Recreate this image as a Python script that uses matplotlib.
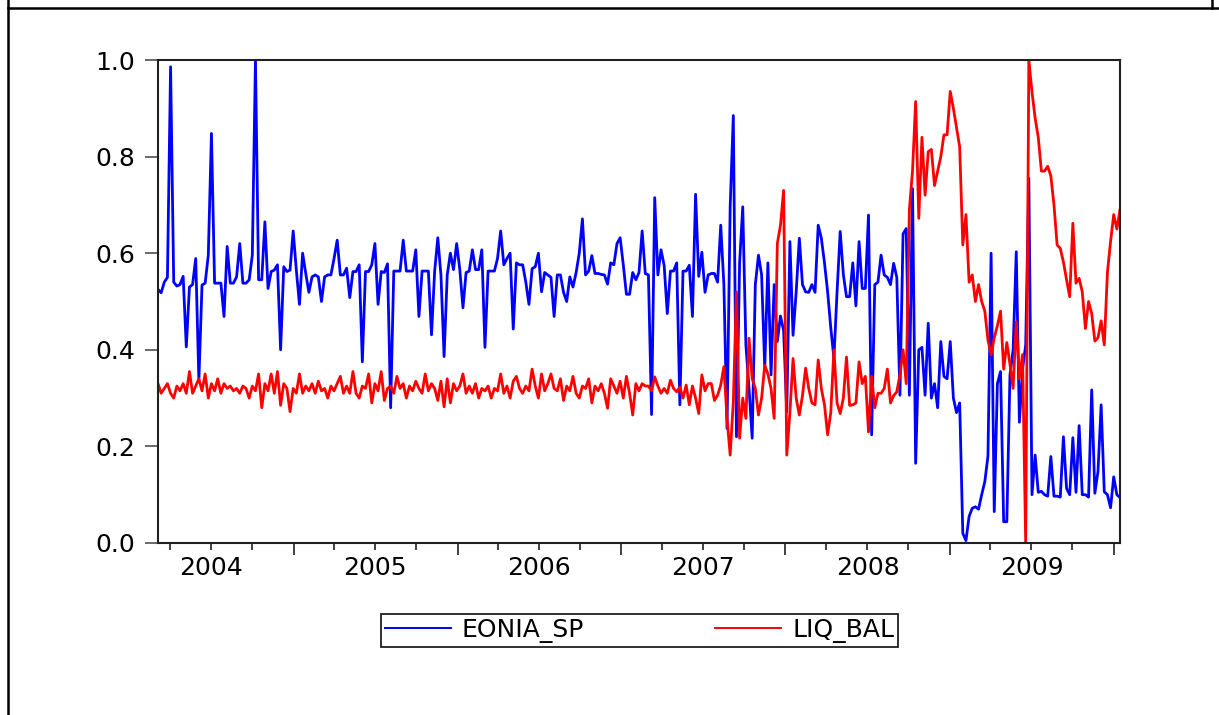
import matplotlib
matplotlib.use("Agg")
import matplotlib.pyplot as plt
import matplotlib.dates as mdates
from matplotlib.lines import Line2D
from matplotlib.ticker import FormatStrFormatter, NullFormatter
import numpy as np
import pandas as pd

# weekly observations, March 2004 - January 2010
dates = pd.date_range("2004-03-05", periods=307, freq="7D")

eonia_sp = [
    0.525, 0.518, 0.54, 0.55, 0.986, 0.54, 0.532, 0.535, 0.552, 0.406,
    0.53, 0.535, 0.589, 0.337, 0.534, 0.538, 0.596, 0.848, 0.538, 0.538,
    0.538, 0.469, 0.614, 0.538, 0.538, 0.551, 0.62, 0.538, 0.538, 0.545,
    0.596, 1.0, 0.545, 0.545, 0.665, 0.527, 0.562, 0.565, 0.576, 0.40,
    0.572, 0.562, 0.565, 0.646, 0.565, 0.494, 0.60, 0.558, 0.519, 0.551,
    0.555, 0.551, 0.50, 0.551, 0.555, 0.555, 0.589, 0.627, 0.555, 0.555,
    0.569, 0.508, 0.562, 0.562, 0.576, 0.375, 0.562, 0.562, 0.576, 0.62,
    0.494, 0.562, 0.56, 0.578, 0.28, 0.563, 0.563, 0.563,
    0.627, 0.563, 0.563, 0.563, 0.607, 0.469, 0.563, 0.563, 0.563, 0.431,
    0.563, 0.632, 0.555, 0.386, 0.555, 0.60, 0.566, 0.62, 0.566, 0.487,
    0.56, 0.563, 0.607, 0.566, 0.566, 0.607, 0.405, 0.563, 0.563, 0.563,
    0.589, 0.646, 0.576, 0.589, 0.60, 0.443, 0.58, 0.576, 0.576, 0.54,
    0.494, 0.568, 0.572, 0.60, 0.52, 0.56, 0.555, 0.55, 0.469, 0.555,
    0.555, 0.519, 0.50, 0.551, 0.53, 0.56, 0.60, 0.671, 0.555, 0.563,
    0.595, 0.558, 0.558, 0.556, 0.555, 0.536, 0.58, 0.576, 0.62, 0.632,
    0.576, 0.515, 0.515, 0.56, 0.545, 0.56, 0.646,
    0.558, 0.555, 0.266, 0.715, 0.555, 0.607, 0.575, 0.475, 0.563, 0.563,
    0.58, 0.286, 0.563, 0.563, 0.575, 0.469, 0.722, 0.552, 0.602, 0.519,
    0.555, 0.558, 0.558, 0.54, 0.658, 0.535, 0.237, 0.696, 0.885, 0.22,
    0.58, 0.696, 0.41, 0.32, 0.217, 0.535, 0.596, 0.555, 0.362, 0.58,
    0.348, 0.535, 0.417, 0.47, 0.44, 0.272, 0.624, 0.43, 0.52, 0.631,
    0.535, 0.52, 0.519, 0.535, 0.519, 0.658, 0.631, 0.58, 0.52, 0.446,
    0.382, 0.52, 0.645, 0.556, 0.51, 0.51, 0.58, 0.491, 0.624, 0.527,
    0.527, 0.679, 0.224, 0.535, 0.54, 0.596, 0.555,
    0.55, 0.535, 0.579, 0.55, 0.306, 0.64, 0.651, 0.306, 0.734, 0.165,
    0.40, 0.405, 0.306, 0.455, 0.30, 0.33, 0.28, 0.417, 0.345, 0.34,
    0.417, 0.30, 0.27, 0.29, 0.02, 0.005, 0.055, 0.072, 0.075, 0.07,
    0.10, 0.127, 0.18, 0.60, 0.065, 0.33, 0.355, 0.044, 0.044, 0.348,
    0.40, 0.603, 0.25, 0.36, 0.41, 0.755, 0.10, 0.182, 0.105, 0.107,
    0.10, 0.097, 0.179, 0.097, 0.097, 0.095, 0.22, 0.113, 0.10, 0.218,
    0.105, 0.243, 0.10, 0.10, 0.095, 0.317, 0.103, 0.148, 0.286, 0.106,
    0.10, 0.073, 0.137, 0.10, 0.094,
]

liq_bal = [
    0.33, 0.31, 0.32, 0.33, 0.31, 0.30, 0.325, 0.315, 0.33, 0.31,
    0.355, 0.31, 0.325, 0.34, 0.315, 0.35, 0.30, 0.33, 0.315, 0.34,
    0.31, 0.33, 0.32, 0.325, 0.315, 0.32, 0.31, 0.325, 0.32, 0.30,
    0.325, 0.315, 0.35, 0.28, 0.33, 0.315, 0.35, 0.31, 0.355, 0.285,
    0.33, 0.32, 0.272, 0.32, 0.31, 0.35, 0.31, 0.325, 0.315, 0.33,
    0.31, 0.335, 0.315, 0.32, 0.30, 0.325, 0.315, 0.33, 0.345, 0.31,
    0.325, 0.31, 0.355, 0.31, 0.30, 0.325, 0.32, 0.35, 0.29, 0.33,
    0.315, 0.355, 0.295, 0.32, 0.325, 0.31, 0.345, 0.32,
    0.33, 0.30, 0.325, 0.315, 0.335, 0.32, 0.31, 0.35, 0.315, 0.33,
    0.32, 0.295, 0.335, 0.282, 0.34, 0.29, 0.33, 0.315, 0.325, 0.35,
    0.31, 0.325, 0.31, 0.33, 0.30, 0.32, 0.315, 0.325, 0.30, 0.32,
    0.315, 0.35, 0.31, 0.325, 0.30, 0.335, 0.345, 0.32, 0.31, 0.325,
    0.315, 0.36, 0.325, 0.30, 0.35, 0.315, 0.33, 0.35, 0.32, 0.315,
    0.34, 0.295, 0.325, 0.315, 0.345, 0.31, 0.30, 0.325, 0.32, 0.34,
    0.29, 0.325, 0.315, 0.33, 0.31, 0.279, 0.34, 0.325, 0.31, 0.335,
    0.30, 0.345, 0.31, 0.265, 0.33, 0.315, 0.33,
    0.325, 0.325, 0.315, 0.344, 0.325, 0.31, 0.32, 0.31, 0.337, 0.32,
    0.313, 0.323, 0.30, 0.327, 0.286, 0.325, 0.30, 0.268, 0.348, 0.315,
    0.33, 0.33, 0.295, 0.306, 0.327, 0.365, 0.258, 0.182, 0.292, 0.52,
    0.217, 0.30, 0.258, 0.424, 0.34, 0.32, 0.265, 0.30, 0.368, 0.35,
    0.32, 0.258, 0.62, 0.658, 0.73, 0.182, 0.27, 0.382, 0.30, 0.265,
    0.305, 0.362, 0.32, 0.29, 0.286, 0.379, 0.32, 0.286, 0.224, 0.27,
    0.40, 0.29, 0.268, 0.30, 0.385, 0.285, 0.286, 0.29, 0.375, 0.33,
    0.345, 0.23, 0.345, 0.28, 0.31, 0.31, 0.32,
    0.36, 0.29, 0.305, 0.313, 0.348, 0.40, 0.33, 0.69, 0.77, 0.914,
    0.672, 0.84, 0.72, 0.81, 0.815, 0.74, 0.77, 0.80, 0.845, 0.845,
    0.935, 0.90, 0.86, 0.82, 0.617, 0.68, 0.54, 0.555, 0.50, 0.535,
    0.50, 0.48, 0.42, 0.39, 0.425, 0.45, 0.48, 0.36, 0.415, 0.37,
    0.32, 0.458, 0.34, 0.39, 0.0, 1.0, 0.934, 0.88, 0.84, 0.77,
    0.77, 0.78, 0.76, 0.70, 0.617, 0.61, 0.582, 0.545, 0.51, 0.662,
    0.538, 0.548, 0.52, 0.444, 0.50, 0.475, 0.418, 0.425, 0.46, 0.41,
    0.56, 0.624, 0.68, 0.65, 0.69,
]

years = [2004, 2005, 2006, 2007, 2008, 2009]

W, H = 1219, 715
fig = plt.figure(figsize=(W / 100, H / 100), dpi=100)
ax = fig.add_axes([158 / W, 1 - 543 / H, 962 / W, 483 / H])

ax.plot(dates, eonia_sp, color="#0000ff", lw=2.0, label="EONIA_SP")
ax.plot(dates, liq_bal, color="#ff0000", lw=2.0, label="LIQ_BAL")

ax.set_xlim(dates[0], dates[-1])
ax.set_ylim(0, 1)
ax.set_yticks(np.arange(0, 1.01, 0.2))
ax.yaxis.set_major_formatter(FormatStrFormatter("%.1f"))

ax.xaxis.set_major_locator(mdates.YearLocator())
ax.xaxis.set_minor_locator(mdates.MonthLocator(bymonth=[1, 4, 7, 10]))
ax.xaxis.set_major_formatter(NullFormatter())
ax.tick_params(axis="x", which="major", length=8.6, width=1.2, direction="out", color="#202020")
ax.tick_params(axis="x", which="minor", length=5, width=1.2, direction="out", color="#202020")
ax.tick_params(axis="y", length=9.4, width=1.2, pad=7, labelsize=18, color="#505050")

for yr in years:
    ax.text(pd.Timestamp(f"{yr}-07-02"), -0.052, str(yr), transform=ax.get_xaxis_transform(),
            ha="center", va="center", fontsize=18)

for sp in ax.spines.values():
    sp.set_linewidth(1.5)
    sp.set_color("#202020")

leg = fig.legend(loc="center", bbox_to_anchor=(381 / W, 1 - 648 / H, 517 / W, 35 / H),
                 mode="expand", ncol=2, fontsize=18, fancybox=False, framealpha=1,
                 edgecolor="#202020", handlelength=2.64, handletextpad=0.45,
                 borderpad=0.15, borderaxespad=0)
leg.get_frame().set_linewidth(1.3)
for ln in leg.get_lines():
    ln.set_linewidth(1.4)

# outer border of the picture
fig.add_artist(Line2D([7.5 / W, 1], [1 - 7.5 / H] * 2, transform=fig.transFigure, color="black", lw=1.8))
fig.add_artist(Line2D([7.5 / W] * 2, [0, 1], transform=fig.transFigure, color="black", lw=1.8))
fig.add_artist(Line2D([1212 / W] * 2, [1 - 7.5 / H, 1], transform=fig.transFigure, color="black", lw=1.8))

fig.savefig("out.png", dpi=100)
